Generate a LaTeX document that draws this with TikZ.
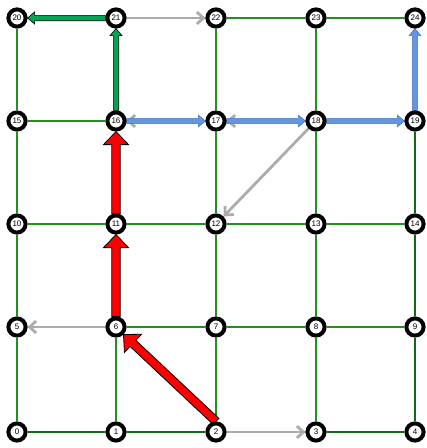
\documentclass[tikz,border=0pt]{standalone}
\usepackage{fontspec}
\setmainfont{Liberation Sans}
\usetikzlibrary{calc,arrows.meta}
\definecolor{gridgreen}{RGB}{30,145,30}
\definecolor{griddark}{RGB}{20,105,20}
\definecolor{arrgray}{RGB}{172,172,172}
\definecolor{arrgreen}{RGB}{0,166,81}
\definecolor{arrblue}{RGB}{100,150,222}
\definecolor{arrblueline}{RGB}{70,115,200}
\pgfdeclarelayer{gridlayer}
\pgfdeclarelayer{arrowlayer}
\pgfsetlayers{gridlayer,arrowlayer,main}
\newcommand{\blockarr}[6]{%
  \coordinate (bah) at ($(#2)!#5!(#1)$);
  \draw[#6] ($(#1)!#3!90:(#2)$) -- ($(bah)!#3!90:(#2)$) -- ($(bah)!#4!90:(#2)$) -- (#2) -- ($(bah)!#4!-90:(#2)$) -- ($(bah)!#3!-90:(#2)$) -- ($(#1)!#3!-90:(#2)$) -- cycle;}
\tikzset{
  vert/.style={circle,draw=black,line width=4pt,fill=white,minimum size=17.2pt,inner sep=0pt,
    font=\fontsize{8}{8}\selectfont,text=black},
  gridline/.style={draw=gridgreen,line width=1.1pt},
  gridlinedark/.style={draw=griddark,line width=1.1pt},
  grayarr/.style={draw=arrgray,line width=2.8pt,-{Straight Barb[length=6.5pt,width=12pt]}},
  redarr/.style={fill=red,draw=black,line width=0.8pt,line join=miter},
  greenarr/.style={fill=arrgreen,draw=black,line width=0.6pt,line join=miter},
  bluearr/.style={fill=arrblue,draw=arrblueline,line width=0.6pt,line join=miter}
}
\begin{document}
\begin{tikzpicture}[x=1pt,y=-1pt]
\useasboundingbox (0,0) rectangle (427,448);
% nodes
\node[vert] (n0) at (17,432) {0};
\node[vert] (n1) at (116,432) {1};
\node[vert] (n2) at (216,432) {2};
\node[vert] (n3) at (316,432) {3};
\node[vert] (n4) at (415,432) {4};
\node[vert] (n5) at (17,327) {5};
\node[vert] (n6) at (116,327) {6};
\node[vert] (n7) at (216,327) {7};
\node[vert] (n8) at (316,327) {8};
\node[vert] (n9) at (415,327) {9};
\node[vert] (n10) at (17,224) {10};
\node[vert] (n11) at (116,224) {11};
\node[vert] (n12) at (216,224) {12};
\node[vert] (n13) at (316,224) {13};
\node[vert] (n14) at (415,224) {14};
\node[vert] (n15) at (17,121) {15};
\node[vert] (n16) at (116,121) {16};
\node[vert] (n17) at (216,121) {17};
\node[vert] (n18) at (316,121) {18};
\node[vert] (n19) at (415,121) {19};
\node[vert] (n20) at (17,18) {20};
\node[vert] (n21) at (116,18) {21};
\node[vert] (n22) at (216,18) {22};
\node[vert] (n23) at (316,18) {23};
\node[vert] (n24) at (415,18) {24};
% grid
\begin{pgfonlayer}{gridlayer}
\foreach \r in {0,...,4}{
  \foreach \cc in {0,...,3}{
    \pgfmathtruncatemacro{\ea}{5*\r+\cc}
    \pgfmathtruncatemacro{\eb}{5*\r+\cc+1}
    \draw[gridline] (n\ea) -- (n\eb);
  }
}
\foreach \k in {0,...,19}{
  \pgfmathtruncatemacro{\eb}{\k+5}
  \draw[gridline] (n\k) -- (n\eb);
}
\draw[gridlinedark] (n0) -- (n1) -- (n2);
\draw[gridlinedark] (n3) -- (n4) -- (n9) -- (n14) -- (n19);
\end{pgfonlayer}
% arrows
\begin{pgfonlayer}{arrowlayer}
\draw[grayarr] (n21.east) -- (n22.west);
\draw[grayarr] (n2.east) -- (n3.west);
\draw[grayarr] (n6.west) -- (n5.east);
\draw[grayarr] (n18.south west) -- (n12.north east);
\draw[grayarr,yshift=-3pt] (n17.west) -- (n16.east);
\draw[grayarr,yshift=-3pt] (n18.west) -- (n17.east);
\blockarr{n16.east}{n17.west}{2.6pt}{5.8pt}{7pt}{bluearr}
\blockarr{n17.east}{n18.west}{2.6pt}{5.8pt}{7pt}{bluearr}
\blockarr{n18.east}{n19.west}{2.6pt}{5.8pt}{7pt}{bluearr}
\blockarr{n19.north}{n24.south}{2.6pt}{5.8pt}{7pt}{bluearr}
\blockarr{n16.north}{n21.south}{2.7pt}{6pt}{7pt}{greenarr}
\blockarr{n21.west}{n20.east}{2.7pt}{6pt}{7pt}{greenarr}
\blockarr{n2.north}{n6.south east}{4.2pt}{12.5pt}{13pt}{redarr}
\blockarr{n6.north}{n11.south}{4.2pt}{12.5pt}{13pt}{redarr}
\blockarr{n11.north}{n16.south}{4.2pt}{12.5pt}{13pt}{redarr}
\end{pgfonlayer}
\end{tikzpicture}
\end{document}
